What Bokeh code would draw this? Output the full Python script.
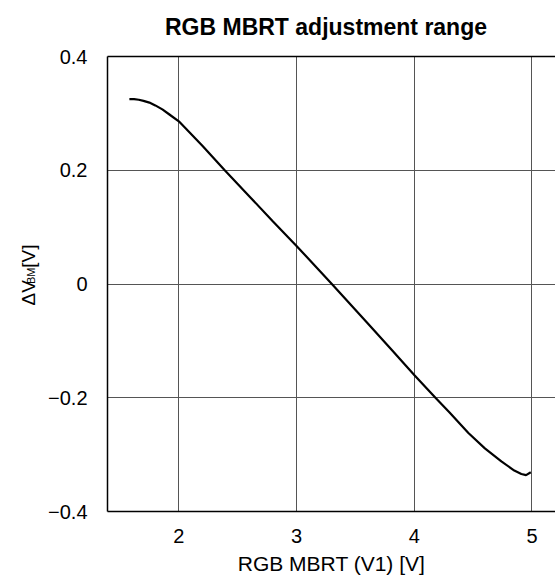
import math
from bokeh.plotting import figure
from bokeh.models import Range1d, FixedTicker, LinearAxis
from bokeh.layouts import row, column
from bokeh.core.properties import value
from bokeh.embed import file_html
from bokeh.resources import INLINE

# ---- data ----
x_v1 = [1.58, 1.62, 1.66, 1.70, 1.75, 1.80, 1.86, 1.92, 2.00, 2.20, 2.39, 2.60, 2.80, 3.00,
        3.30, 3.60, 3.80, 4.00, 4.18, 4.30, 4.46, 4.60, 4.74, 4.85, 4.91, 4.95, 4.99]
delta_vbm = [0.325, 0.325, 0.324, 0.322, 0.319, 0.314, 0.307, 0.298, 0.286, 0.243, 0.200,
             0.154, 0.110, 0.067, 0.000, -0.068, -0.114, -0.160, -0.200, -0.226, -0.262,
             -0.289, -0.312, -0.328, -0.334, -0.336, -0.331]

x_ticks = [2, 3, 4, 5]
y_ticks = [-0.4, -0.2, 0.0, 0.2, 0.4]
y_tick_labels = ["\u22120.4", "\u22120.2", "0", "0.2", "0.4"]

title_text = "RGB MBRT adjustment range"
x_label = "RGB MBRT (V1) [V]"
y_label_parts = ["\u0394V", "BM", "[V]"]
y_label_sizes = ["19px", "11px", "19px"]

FONT = "Liberation Sans"
W, H = 555, 577
TH = 45   # height of the title strip
LW = 45   # width of the strip holding the y-axis title


def blank(fig):
    fig.grid.visible = False
    fig.outline_line_color = None
    fig.background_fill_color = "white"
    fig.border_fill_color = "white"


# ---- title strip ----
ttl = figure(width=W, height=TH, output_backend="svg", toolbar_location=None,
             x_range=Range1d(0, W), y_range=Range1d(0, TH),
             x_axis_type=None, y_axis_type=None,
             min_border_left=0, min_border_right=0, min_border_top=0, min_border_bottom=0)
blank(ttl)
ttl.text(x=[325.5], y=[TH - 26.0], text=[title_text],
         text_font=value(FONT), text_font_size=value("23px"), text_font_style="bold",
         text_color="black", text_align="center", text_baseline="alphabetic")

# ---- y-axis title strip (text with subscript) ----
LH = H - TH
lab = figure(width=LW, height=LH, output_backend="svg", toolbar_location=None,
             x_range=Range1d(0, LW), y_range=Range1d(0, LH),
             x_axis_type=None, y_axis_type=None,
             min_border_left=0, min_border_right=0, min_border_top=0, min_border_bottom=0)
blank(lab)
# start corner of each piece (page pixels, corrected for the observed offset)
lab_x = [17.6, 24.5, 17.6]
lab_page_y = [336.0, 311.0, 292.0]
for t, fs, xx, py in zip(y_label_parts, y_label_sizes, lab_x, lab_page_y):
    lab.text(x=[xx], y=[H - py], text=[t], angle=math.pi / 2,
             text_font=value(FONT), text_font_size=value(fs), text_color="black",
             text_align="left", text_baseline="top")

# ---- main chart ----
p = figure(width=W - LW, height=LH, output_backend="svg", toolbar_location=None,
           x_range=Range1d(1.394, 5.2), y_range=Range1d(-0.4, 0.4),
           min_border_left=101 - LW, min_border_right=0, min_border_top=56 - TH,
           min_border_bottom=66)
p.outline_line_color = None
p.background_fill_color = "white"
p.border_fill_color = "white"

# x axis
xa = p.xaxis[0]
xa.ticker = FixedTicker(ticks=x_ticks)
xa.major_tick_line_color = None
xa.minor_tick_line_color = None
xa.axis_line_color = "black"
xa.axis_line_width = 1.5
xa.major_label_text_font = FONT
xa.major_label_text_font_size = "20px"
xa.major_label_text_color = "black"
xa.major_label_standoff = 11
xa.axis_label = x_label
xa.axis_label_text_font = FONT
xa.axis_label_text_font_size = "21px"
xa.axis_label_text_font_style = "normal"
xa.axis_label_text_color = "black"
xa.axis_label_standoff = 6

# y axis
ya = p.yaxis[0]
ya.ticker = FixedTicker(ticks=y_ticks)
ya.major_label_overrides = {t: l for t, l in zip(y_ticks, y_tick_labels)}
ya.major_tick_line_color = None
ya.minor_tick_line_color = None
ya.axis_line_color = "black"
ya.axis_line_width = 1.5
ya.major_label_text_font = FONT
ya.major_label_text_font_size = "20px"
ya.major_label_text_color = "black"
ya.major_label_standoff = 14

# top border line
top = LinearAxis(ticker=FixedTicker(ticks=[]), axis_line_color="black", axis_line_width=1.5,
                 major_tick_line_color=None, minor_tick_line_color=None,
                 major_tick_out=0, major_tick_in=0, major_label_standoff=0,
                 major_label_text_font_size="0px")
p.add_layout(top, "above")

# grid
p.xgrid.grid_line_color = "#555555"
p.xgrid.grid_line_width = 1
p.ygrid.grid_line_color = "#555555"
p.ygrid.grid_line_width = 1

p.line(x_v1, delta_vbm, line_color="black", line_width=2.2)

layout = column(ttl, row(lab, p))
open("out.html", "w").write(file_html(layout, INLINE))
